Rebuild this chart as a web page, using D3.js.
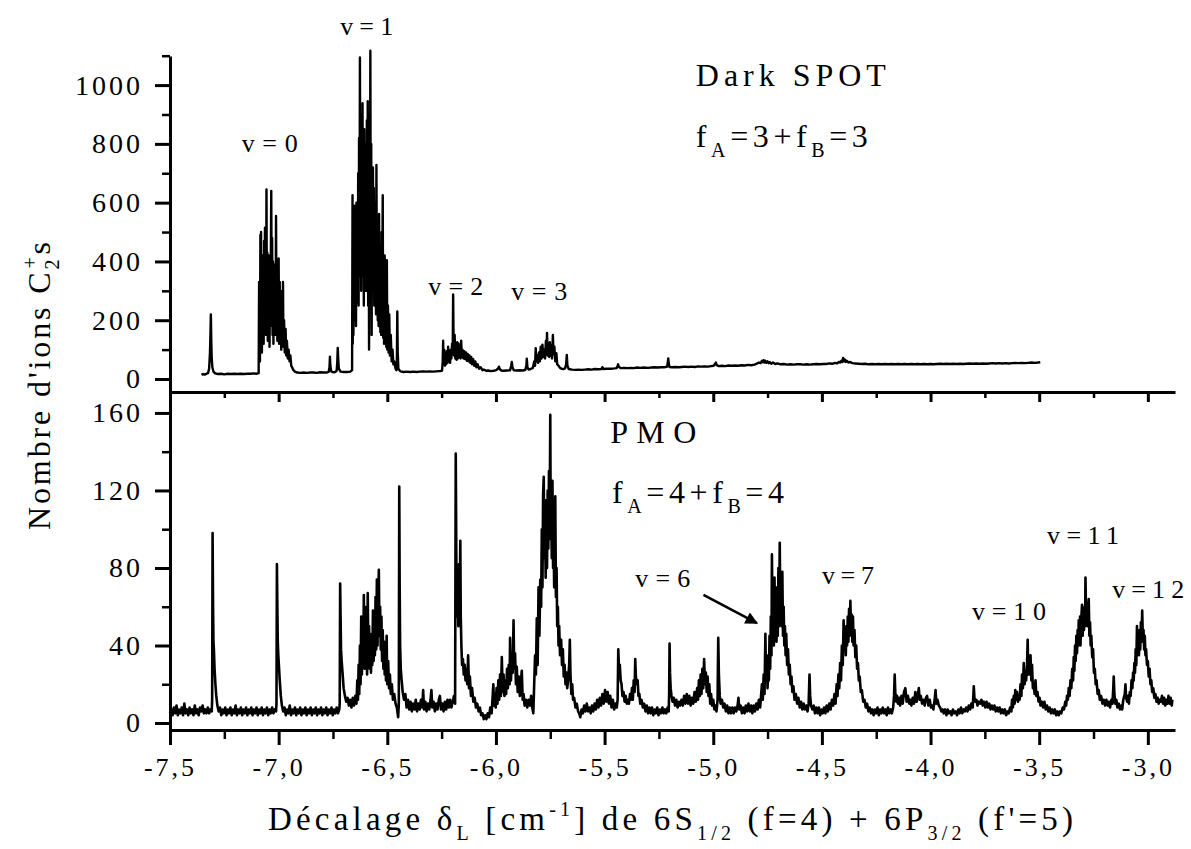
<!DOCTYPE html>
<html>
<head>
<meta charset="utf-8">
<script src="https://cdn.jsdelivr.net/npm/d3@7"></script>
<style>
  body { margin: 0; background: #fff; }
  svg text { font-family: "Liberation Serif", "Times New Roman", Times, "DejaVu Serif", "Noto Serif", serif !important; fill: #000; }
</style>
</head>
<body>
<script>
// tick values
var xTicks = [-7.5, -7.0, -6.5, -6.0, -5.5, -5.0, -4.5, -4.0, -3.5, -3.0];
var xMinor = [-7.25, -6.75, -6.25, -5.75, -5.25, -4.75, -4.25, -3.75, -3.25];
var yTicksTop = [0, 200, 400, 600, 800, 1000];
var yMinorTop = [100, 300, 500, 700, 900, 1100];
var yTicksBot = [0, 40, 80, 120, 160];
var yMinorBot = [20, 60, 100, 140];

// Dark SPOT spectrum, fA=3 + fB=3  [shift cm-1, ion counts]
var darkSpot = [
[-7.355,14],[-7.348,17],[-7.340,15],[-7.332,18],[-7.325,20],[-7.320,35],[-7.316,90],[-7.314,150],[-7.312,220],[-7.310,130],[-7.308,70],[-7.305,40],[-7.300,25],[-7.292,19],[-7.280,17],[-7.265,18],[-7.250,16],[-7.235,18],[-7.220,17],[-7.205,18],[-7.190,17],[-7.175,18],[-7.160,17],[-7.145,18],[-7.130,18],[-7.115,19],[-7.100,18],[-7.092,20],
[-7.090,330],[-7.089,80],[-7.087,260],[-7.086,60],[-7.084,490],[-7.083,110],[-7.081,500],[-7.080,150],[-7.078,300],[-7.077,90],[-7.075,420],[-7.073,140],[-7.071,340],[-7.069,120],[-7.067,470],[-7.066,180],[-7.063,515],[-7.061,200],[-7.059,380],[-7.058,150],[-7.056,645],[-7.054,220],[-7.052,430],[-7.050,130],[-7.048,380],[-7.046,170],[-7.044,420],[-7.042,110],[-7.040,300],[-7.038,180],[-7.034,640],[-7.032,240],[-7.030,480],[-7.028,150],[-7.026,400],[-7.024,120],[-7.022,350],[-7.020,200],[-7.016,390],[-7.014,150],[-7.012,555],[-7.010,170],[-7.008,380],[-7.006,130],[-7.004,300],[-7.002,160],[-7.000,410],[-6.998,120],[-6.995,330],[-6.993,140],[-6.990,260],[-6.988,100],[-6.985,300],[-6.983,130],[-6.980,330],[-6.978,110],[-6.975,200],[-6.972,90],[-6.968,170],[-6.965,80],[-6.962,130],[-6.958,70],[-6.954,100],[-6.950,60],[-6.946,80],[-6.942,45],[-6.938,40],[-6.932,30],[-6.925,25],
[-6.915,22],[-6.900,21],[-6.885,22],[-6.870,21],[-6.855,22],[-6.840,22],[-6.825,21],[-6.810,23],[-6.795,22],[-6.780,22],[-6.770,24],[-6.766,40],[-6.764,76],[-6.762,45],[-6.758,26],[-6.750,23],[-6.740,24],[-6.733,28],[-6.730,60],[-6.728,106],[-6.726,70],[-6.723,35],[-6.715,25],[-6.700,24],[-6.685,24],[-6.670,25],[-6.662,30],
[-6.660,625],[-6.659,120],[-6.657,560],[-6.656,150],[-6.654,380],[-6.652,200],[-6.650,590],[-6.648,220],[-6.646,480],[-6.644,180],[-6.642,600],[-6.640,260],[-6.638,560],[-6.636,300],[-6.634,700],[-6.632,250],[-6.630,820],[-6.628,350],[-6.626,1094],[-6.624,400],[-6.622,900],[-6.620,300],[-6.618,780],[-6.616,420],[-6.614,938],[-6.612,350],[-6.610,750],[-6.608,250],[-6.606,850],[-6.604,400],[-6.602,700],[-6.600,300],[-6.598,800],[-6.596,350],[-6.594,880],[-6.592,300],[-6.590,945],[-6.588,250],[-6.586,900],[-6.584,100],[-6.582,650],[-6.580,300],[-6.578,1117],[-6.576,380],[-6.574,800],[-6.572,150],[-6.570,700],[-6.568,300],[-6.566,720],[-6.564,350],[-6.562,650],[-6.560,250],[-6.558,560],[-6.556,300],[-6.554,600],[-6.552,220],[-6.550,728],[-6.548,260],[-6.546,500],[-6.544,200],[-6.542,480],[-6.540,180],[-6.538,562],[-6.536,200],[-6.534,420],[-6.532,160],[-6.530,380],[-6.528,150],[-6.526,500],[-6.524,170],[-6.521,625],[-6.519,140],[-6.517,380],[-6.515,120],[-6.512,420],[-6.510,130],[-6.507,300],[-6.505,110],[-6.502,404],[-6.500,100],[-6.497,250],[-6.494,90],[-6.491,220],[-6.488,80],[-6.484,150],[-6.480,60],[-6.476,100],[-6.472,50],[-6.468,60],[-6.462,35],[-6.458,30],[-6.456,60],[-6.454,230],[-6.452,90],[-6.449,35],[-6.440,26],
[-6.425,24],[-6.410,25],[-6.395,24],[-6.380,25],[-6.365,24],[-6.350,25],[-6.335,26],[-6.320,25],[-6.305,26],[-6.290,25],[-6.275,26],[-6.260,27],[-6.248,28],
[-6.245,60],[-6.243,130],[-6.241,50],[-6.238,100],[-6.235,45],[-6.232,80],[-6.229,50],[-6.226,95],[-6.223,55],[-6.220,110],[-6.217,60],[-6.214,90],[-6.211,55],[-6.208,100],[-6.205,70],[-6.202,120],[-6.199,90],[-6.197,288],[-6.195,130],[-6.193,80],[-6.190,150],[-6.187,70],[-6.184,110],[-6.181,65],[-6.178,125],[-6.175,70],[-6.172,120],[-6.169,75],[-6.166,110],[-6.163,70],[-6.160,130],[-6.157,75],[-6.154,100],[-6.150,70],[-6.146,95],[-6.142,68],[-6.138,90],[-6.134,62],[-6.130,85],[-6.126,60],[-6.122,80],[-6.118,55],[-6.114,75],[-6.110,50],[-6.105,68],[-6.100,45],[-6.095,60],[-6.090,40],[-6.084,50],[-6.078,35],[-6.070,40],[-6.062,30],[-6.055,32],[-6.045,28],[-6.035,29],[-6.025,27],[-6.010,28],[-5.998,30],[-5.990,36],[-5.986,42],[-5.982,33],[-5.975,29],[-5.965,28],[-5.950,29],[-5.935,30],[-5.930,45],[-5.927,58],[-5.924,40],[-5.918,30],[-5.905,29],[-5.890,30],[-5.875,29],[-5.865,31],
[-5.860,45],[-5.858,69],[-5.855,40],[-5.850,32],[-5.840,34],[-5.830,38],[-5.824,60],[-5.820,45],[-5.817,105],[-5.814,60],[-5.810,80],[-5.806,55],[-5.802,90],[-5.798,60],[-5.794,110],[-5.790,70],[-5.786,117],[-5.782,75],[-5.778,100],[-5.774,70],[-5.770,130],[-5.767,90],[-5.765,157],[-5.762,80],[-5.758,120],[-5.755,75],[-5.752,125],[-5.748,80],[-5.745,115],[-5.742,70],[-5.738,150],[-5.735,85],[-5.731,110],[-5.727,60],[-5.722,88],[-5.718,50],[-5.712,45],[-5.705,38],[-5.698,35],[-5.690,34],[-5.682,36],[-5.677,50],[-5.674,82],[-5.671,45],[-5.665,34],[-5.650,32],[-5.635,31],[-5.620,32],[-5.605,31],[-5.590,32],[-5.575,33],[-5.560,32],[-5.545,34],[-5.530,33],[-5.515,34],[-5.510,40],[-5.505,34],[-5.490,35],[-5.470,35],[-5.455,36],[-5.445,37],[-5.440,44],[-5.438,50],[-5.435,42],[-5.425,37],[-5.410,38],[-5.395,37],[-5.380,38],[-5.365,37],[-5.350,39],[-5.335,38],[-5.320,39],[-5.300,38],[-5.285,39],[-5.270,40],[-5.255,39],[-5.240,40],[-5.225,40],[-5.212,42],[-5.209,58],[-5.207,70],[-5.205,54],[-5.201,41],[-5.190,40],[-5.175,41],[-5.160,40],[-5.145,41],[-5.130,42],[-5.115,41],[-5.100,42],[-5.085,41],[-5.070,43],[-5.055,42],[-5.040,43],[-5.025,42],[-5.010,44],[-4.998,45],[-4.992,51],[-4.988,56],[-4.984,47],[-4.975,44],[-4.960,45],[-4.945,44],[-4.930,46],[-4.915,45],[-4.900,46],[-4.885,45],[-4.870,47],[-4.855,46],[-4.840,48],[-4.825,47],[-4.810,49],[-4.800,52],[-4.790,56],[-4.782,54],[-4.776,62],[-4.772,57],[-4.768,64],[-4.764,56],[-4.760,62],[-4.755,55],[-4.750,60],[-4.745,54],[-4.740,58],[-4.733,52],[-4.725,56],[-4.715,51],[-4.705,53],[-4.690,50],[-4.675,51],[-4.660,49],[-4.645,50],[-4.630,49],[-4.615,50],[-4.600,50],[-4.585,49],[-4.570,50],[-4.555,49],[-4.540,50],[-4.525,51],[-4.510,50],[-4.495,51],[-4.480,51],[-4.465,53],[-4.450,52],[-4.440,55],[-4.430,53],[-4.422,58],[-4.416,56],[-4.410,62],[-4.406,58],[-4.402,72],[-4.398,60],[-4.394,66],[-4.390,58],[-4.385,62],[-4.378,56],[-4.370,58],[-4.360,54],[-4.345,53],[-4.330,52],[-4.315,51],[-4.300,52],[-4.285,50],[-4.270,51],[-4.255,50],[-4.240,51],[-4.225,50],[-4.210,51],[-4.195,50],[-4.180,51],[-4.165,50],[-4.150,51],[-4.135,50],[-4.120,51],[-4.105,50],[-4.090,51],[-4.075,50],[-4.060,51],[-4.045,50],[-4.030,51],[-4.015,50],[-4.000,51],[-3.985,50],[-3.970,51],[-3.955,52],[-3.940,51],[-3.925,52],[-3.910,51],[-3.895,52],[-3.880,51],[-3.865,52],[-3.850,51],[-3.835,52],[-3.820,53],[-3.805,52],[-3.790,53],[-3.775,52],[-3.760,53],[-3.745,52],[-3.730,53],[-3.715,54],[-3.700,53],[-3.685,54],[-3.670,53],[-3.655,54],[-3.640,53],[-3.625,54],[-3.610,55],[-3.595,54],[-3.580,55],[-3.565,54],[-3.550,55],[-3.535,56],[-3.520,55],[-3.505,56],[-3.495,57]
];

// PMO spectrum, fA=4 + fB=4  [shift cm-1, ion counts]
var pmo = [
[-7.500,5],[-7.494,7],[-7.488,4],[-7.482,8],[-7.476,5],[-7.470,9],[-7.464,4],[-7.458,7],[-7.452,5],[-7.446,8],[-7.440,4],[-7.434,10],[-7.428,5],[-7.422,7],[-7.416,4],[-7.410,8],[-7.404,5],[-7.398,7],[-7.392,4],[-7.386,9],[-7.380,5],[-7.374,7],[-7.368,4],[-7.362,8],[-7.356,6],[-7.350,9],[-7.344,5],[-7.338,7],[-7.332,5],[-7.326,8],[-7.320,5],[-7.314,7],[-7.308,6],[-7.306,12],
[-7.304,98],[-7.302,62],[-7.300,42],[-7.298,38],[-7.295,28],[-7.291,20],[-7.287,14],[-7.282,9],[-7.276,6],[-7.270,8],[-7.264,4],[-7.258,7],[-7.252,5],[-7.246,8],[-7.240,4],[-7.234,7],[-7.228,5],[-7.222,8],[-7.216,4],[-7.210,7],[-7.204,5],[-7.198,9],[-7.192,4],[-7.186,7],[-7.180,5],[-7.174,8],[-7.168,4],[-7.162,7],[-7.156,5],[-7.150,8],[-7.144,4],[-7.138,7],[-7.132,5],[-7.126,8],[-7.120,4],[-7.114,7],[-7.108,5],[-7.102,8],[-7.096,4],[-7.090,7],[-7.084,5],[-7.078,8],[-7.072,4],[-7.066,7],[-7.060,5],[-7.054,8],[-7.048,4],[-7.042,7],[-7.036,5],[-7.030,8],[-7.024,5],[-7.018,7],[-7.012,6],[-7.010,10],
[-7.008,82],[-7.006,60],[-7.004,42],[-7.002,36],[-6.999,30],[-6.995,22],[-6.990,14],[-6.985,9],[-6.979,6],[-6.973,8],[-6.967,4],[-6.961,7],[-6.955,5],[-6.949,9],[-6.943,4],[-6.937,7],[-6.931,5],[-6.925,8],[-6.919,4],[-6.913,7],[-6.907,5],[-6.901,8],[-6.895,4],[-6.889,7],[-6.883,5],[-6.877,8],[-6.871,4],[-6.865,7],[-6.859,5],[-6.853,8],[-6.847,4],[-6.841,7],[-6.835,5],[-6.829,8],[-6.823,4],[-6.817,7],[-6.811,5],[-6.805,8],[-6.799,4],[-6.793,7],[-6.787,5],[-6.781,8],[-6.775,4],[-6.769,7],[-6.763,5],[-6.757,8],[-6.751,4],[-6.745,7],[-6.739,5],[-6.733,8],[-6.727,5],[-6.721,7],[-6.719,10],
[-6.717,72],[-6.715,55],[-6.713,38],[-6.710,32],[-6.706,26],[-6.701,18],[-6.695,14],[-6.689,11],[-6.683,13],[-6.677,9],[-6.671,12],[-6.665,8],[-6.659,13],[-6.653,9],[-6.647,14],[-6.642,10],[-6.638,22],[-6.635,12],[-6.632,30],[-6.629,15],[-6.626,40],[-6.623,20],[-6.620,55],[-6.617,25],[-6.614,48],[-6.611,30],[-6.608,66],[-6.605,28],[-6.602,60],[-6.599,32],[-6.596,45],[-6.593,25],[-6.590,67],[-6.587,30],[-6.584,50],[-6.581,28],[-6.578,40],[-6.575,26],[-6.572,46],[-6.569,30],[-6.566,58],[-6.563,32],[-6.560,52],[-6.557,35],[-6.554,65],[-6.551,38],[-6.548,74],[-6.545,40],[-6.542,62],[-6.539,79],[-6.536,45],[-6.533,60],[-6.530,38],[-6.527,55],[-6.524,32],[-6.521,48],[-6.518,28],[-6.515,42],[-6.512,25],[-6.509,38],[-6.506,22],[-6.503,45],[-6.500,20],[-6.496,32],[-6.492,18],[-6.488,25],[-6.484,15],[-6.479,20],[-6.474,12],[-6.468,15],[-6.462,10],[-6.456,8],[-6.450,3],[-6.447,10],
[-6.445,122],[-6.443,70],[-6.441,40],[-6.438,28],[-6.434,22],[-6.429,16],[-6.423,12],[-6.417,15],[-6.411,8],[-6.405,12],[-6.399,7],[-6.393,11],[-6.387,6],[-6.381,10],[-6.375,7],[-6.369,12],[-6.363,6],[-6.357,10],[-6.351,7],[-6.345,12],[-6.339,8],[-6.335,17],[-6.331,7],[-6.325,11],[-6.319,6],[-6.313,10],[-6.307,7],[-6.301,12],[-6.297,17],[-6.293,8],[-6.287,11],[-6.281,6],[-6.275,10],[-6.269,7],[-6.263,12],[-6.258,14],[-6.253,7],[-6.247,10],[-6.241,6],[-6.235,11],[-6.229,7],[-6.223,12],[-6.217,8],[-6.211,12],[-6.205,8],[-6.199,11],[-6.193,14],[-6.188,10],
[-6.185,139],[-6.182,80],[-6.179,55],[-6.176,70],[-6.173,50],[-6.170,82],[-6.167,60],[-6.164,94],[-6.162,55],[-6.159,40],[-6.156,30],[-6.152,33],[-6.148,25],[-6.144,30],[-6.140,22],[-6.136,28],[-6.132,20],[-6.128,35],[-6.124,18],[-6.120,24],[-6.115,14],[-6.110,18],[-6.104,11],[-6.098,13],[-6.092,8],[-6.086,10],[-6.080,6],[-6.074,8],[-6.068,4],[-6.062,5],[-6.056,2],[-6.050,4],[-6.044,2],[-6.038,5],[-6.032,3],[-6.026,8],[-6.020,5],[-6.015,14],[-6.012,20],[-6.009,9],[-6.005,15],[-6.001,8],[-5.997,18],[-5.993,10],[-5.989,22],[-5.985,12],[-5.981,25],[-5.977,14],[-5.973,34],[-5.969,16],[-5.965,25],[-5.961,14],[-5.957,22],[-5.953,15],[-5.949,28],[-5.945,18],[-5.941,30],[-5.937,20],[-5.935,44],[-5.931,22],[-5.927,32],[-5.923,26],[-5.919,53],[-5.916,28],[-5.912,36],[-5.908,20],[-5.904,29],[-5.900,16],[-5.895,24],[-5.890,14],[-5.885,22],[-5.881,27],[-5.877,12],[-5.873,15],[-5.868,9],[-5.862,12],[-5.856,8],[-5.850,12],[-5.844,9],[-5.838,14],[-5.833,8],[-5.828,5],[-5.824,20],
[-5.820,35],[-5.816,25],[-5.812,54],[-5.808,30],[-5.804,70],[-5.800,45],[-5.796,74],[-5.792,60],[-5.789,100],[-5.786,70],[-5.783,118],[-5.780,127],[-5.777,85],[-5.774,100],[-5.771,75],[-5.768,115],[-5.765,80],[-5.762,120],[-5.759,90],[-5.756,130],[-5.753,95],[-5.750,159],[-5.748,100],[-5.746,110],[-5.743,85],[-5.740,125],[-5.737,80],[-5.735,100],[-5.732,70],[-5.729,105],[-5.727,117],[-5.724,65],[-5.721,80],[-5.718,50],[-5.715,60],[-5.712,40],[-5.709,50],[-5.705,35],[-5.700,43],[-5.696,30],[-5.692,38],[-5.688,24],[-5.684,30],[-5.680,20],[-5.676,26],[-5.672,18],[-5.668,22],[-5.663,30],[-5.660,43],[-5.657,25],[-5.653,15],[-5.649,20],[-5.645,12],[-5.640,13],[-5.634,8],[-5.628,10],[-5.622,6],[-5.617,5],[-5.612,3],[-5.606,7],[-5.600,5],[-5.594,9],[-5.588,6],[-5.582,10],[-5.576,6],[-5.570,8],[-5.564,5],[-5.558,9],[-5.552,6],[-5.546,10],[-5.540,7],[-5.534,12],[-5.528,8],[-5.522,13],[-5.516,9],[-5.510,15],[-5.504,10],[-5.498,17],[-5.492,11],[-5.486,16],[-5.480,10],[-5.474,14],[-5.468,8],[-5.462,12],[-5.456,7],[-5.450,10],[-5.444,8],[-5.440,12],
[-5.437,38],[-5.434,28],[-5.430,30],[-5.426,22],[-5.422,20],[-5.418,14],[-5.413,16],[-5.408,11],[-5.403,14],[-5.398,10],[-5.393,12],[-5.388,10],[-5.383,15],[-5.378,12],[-5.374,18],[-5.370,12],[-5.366,22],[-5.362,16],[-5.359,33],[-5.356,24],[-5.352,20],[-5.348,22],[-5.344,14],[-5.340,15],[-5.336,10],[-5.330,12],[-5.324,8],[-5.318,10],[-5.312,6],[-5.306,9],[-5.300,5],[-5.294,8],[-5.288,5],[-5.282,8],[-5.276,4],[-5.270,7],[-5.264,5],[-5.258,8],[-5.252,4],[-5.246,7],[-5.240,5],[-5.234,8],[-5.228,5],[-5.222,7],[-5.216,5],[-5.210,8],[-5.205,6],[-5.203,15],
[-5.201,41],[-5.199,26],[-5.196,18],[-5.192,14],[-5.187,11],[-5.182,13],[-5.176,9],[-5.170,12],[-5.164,8],[-5.158,11],[-5.152,9],[-5.146,12],[-5.140,9],[-5.134,14],[-5.128,10],[-5.122,15],[-5.116,10],[-5.110,14],[-5.104,9],[-5.098,13],[-5.092,10],[-5.086,16],[-5.080,11],[-5.074,18],[-5.070,12],[-5.066,22],[-5.062,14],[-5.058,25],[-5.054,15],[-5.050,28],[-5.046,18],[-5.042,33],[-5.038,20],[-5.034,26],[-5.030,16],[-5.026,24],[-5.022,14],[-5.018,20],[-5.014,10],[-5.010,15],[-5.005,9],[-5.000,12],[-4.995,7],[-4.990,9],[-4.985,6],[-4.980,12],[-4.977,44],[-4.974,25],[-4.970,14],[-4.966,10],[-4.960,12],[-4.954,8],[-4.948,10],[-4.942,6],[-4.936,9],[-4.930,5],[-4.924,8],[-4.918,5],[-4.912,8],[-4.906,5],[-4.900,8],[-4.894,6],[-4.888,9],[-4.884,13],[-4.880,7],[-4.874,9],[-4.868,5],[-4.862,8],[-4.856,5],[-4.850,9],[-4.844,6],[-4.838,10],[-4.832,6],[-4.826,9],[-4.820,5],[-4.814,9],[-4.808,6],[-4.802,10],[-4.796,7],[-4.790,12],[-4.784,8],[-4.780,14],
[-4.776,20],[-4.772,12],[-4.768,25],[-4.764,15],[-4.760,46],[-4.757,22],[-4.753,30],[-4.750,18],[-4.747,35],[-4.744,22],[-4.741,45],[-4.738,28],[-4.735,55],[-4.732,35],[-4.730,87],[-4.727,50],[-4.724,65],[-4.721,40],[-4.718,75],[-4.715,45],[-4.712,70],[-4.709,42],[-4.706,60],[-4.703,45],[-4.700,80],[-4.697,50],[-4.694,93],[-4.691,55],[-4.688,70],[-4.685,50],[-4.682,78],[-4.679,45],[-4.676,60],[-4.673,40],[-4.670,50],[-4.667,35],[-4.664,46],[-4.660,30],[-4.656,38],[-4.652,25],[-4.648,30],[-4.644,20],[-4.640,24],[-4.636,16],[-4.631,19],[-4.626,12],[-4.620,15],[-4.614,10],[-4.608,13],[-4.602,8],[-4.596,11],[-4.590,7],[-4.584,10],[-4.578,7],[-4.572,9],[-4.566,6],[-4.561,10],[-4.557,25],[-4.554,14],[-4.550,9],[-4.544,7],[-4.538,9],[-4.532,5],[-4.526,8],[-4.520,5],[-4.514,8],[-4.508,4],[-4.502,7],[-4.496,5],[-4.490,8],[-4.484,5],[-4.478,9],[-4.472,6],[-4.466,10],[-4.460,7],[-4.454,12],[-4.448,9],[-4.442,15],[-4.437,10],[-4.432,20],[-4.428,14],[-4.424,25],
[-4.420,18],[-4.416,31],[-4.412,22],[-4.408,40],[-4.404,30],[-4.400,53],[-4.397,38],[-4.393,45],[-4.390,35],[-4.387,50],[-4.384,40],[-4.381,55],[-4.378,42],[-4.375,59],[-4.372,45],[-4.369,63],[-4.366,48],[-4.363,56],[-4.360,42],[-4.357,55],[-4.354,40],[-4.350,48],[-4.346,34],[-4.342,40],[-4.338,28],[-4.334,31],[-4.330,22],[-4.326,24],[-4.321,16],[-4.316,17],[-4.310,11],[-4.304,12],[-4.298,8],[-4.292,10],[-4.286,6],[-4.280,8],[-4.274,5],[-4.268,7],[-4.262,4],[-4.256,7],[-4.250,5],[-4.244,8],[-4.238,4],[-4.232,7],[-4.226,5],[-4.220,8],[-4.214,5],[-4.208,7],[-4.202,4],[-4.196,8],[-4.190,5],[-4.184,7],[-4.178,5],[-4.172,8],[-4.168,14],[-4.165,25],[-4.162,15],[-4.158,11],[-4.154,14],[-4.150,10],[-4.145,13],[-4.140,9],[-4.134,14],[-4.128,10],[-4.122,16],[-4.116,18],[-4.110,11],[-4.104,14],[-4.098,10],[-4.093,12],[-4.088,9],[-4.082,13],[-4.076,10],[-4.070,16],[-4.064,11],[-4.058,15],[-4.054,18],[-4.050,12],[-4.045,14],[-4.039,10],[-4.033,12],[-4.027,9],[-4.021,13],[-4.016,14],[-4.010,9],[-4.004,12],[-3.998,8],[-3.993,9],[-3.987,7],[-3.981,12],[-3.977,17],[-3.973,10],[-3.968,12],[-3.962,9],[-3.956,8],[-3.950,6],[-3.944,7],[-3.939,5],[-3.933,7],[-3.927,4],[-3.921,7],[-3.915,5],[-3.909,6],[-3.903,4],[-3.897,7],[-3.891,5],[-3.885,6],[-3.878,4],[-3.872,7],[-3.866,5],[-3.860,8],[-3.854,5],[-3.848,7],[-3.842,6],[-3.836,8],[-3.830,6],[-3.824,9],[-3.818,7],[-3.812,10],[-3.806,8],[-3.803,14],[-3.801,19],[-3.798,13],[-3.794,11],[-3.789,12],[-3.784,9],[-3.778,11],[-3.772,10],[-3.766,12],[-3.760,9],[-3.754,11],[-3.748,8],[-3.742,11],[-3.736,8],[-3.730,10],[-3.724,7],[-3.718,9],[-3.712,7],[-3.706,9],[-3.700,6],[-3.694,8],[-3.688,6],[-3.682,8],[-3.676,5],[-3.670,7],[-3.664,5],[-3.658,7],[-3.652,4],[-3.646,6],[-3.640,5],[-3.634,8],[-3.628,6],[-3.625,12],[-3.621,8],[-3.617,14],[-3.613,10],[-3.610,17],
[-3.606,12],[-3.602,16],[-3.598,11],[-3.594,14],[-3.590,12],[-3.586,20],[-3.582,14],[-3.579,25],[-3.575,18],[-3.571,31],[-3.567,20],[-3.563,26],[-3.560,22],[-3.556,30],[-3.553,43],[-3.550,25],[-3.547,32],[-3.543,25],[-3.540,35],[-3.536,22],[-3.533,30],[-3.529,18],[-3.525,20],[-3.521,15],[-3.517,22],[-3.513,14],[-3.508,16],[-3.503,11],[-3.498,13],[-3.494,9],[-3.488,11],[-3.482,8],[-3.476,11],[-3.470,7],[-3.464,9],[-3.458,6],[-3.452,8],[-3.446,5],[-3.440,7],[-3.434,5],[-3.428,7],[-3.422,4],[-3.416,6],[-3.410,4],[-3.404,6],[-3.398,5],[-3.392,8],[-3.386,7],[-3.380,11],[-3.376,9],[-3.372,14],
[-3.368,12],[-3.364,18],[-3.360,14],[-3.356,22],[-3.352,18],[-3.348,28],[-3.344,22],[-3.341,34],[-3.338,27],[-3.335,40],[-3.332,32],[-3.329,45],[-3.326,36],[-3.323,48],[-3.320,40],[-3.318,53],[-3.315,42],[-3.312,55],[-3.310,40],[-3.307,52],[-3.303,61],[-3.300,45],[-3.297,55],[-3.294,48],[-3.291,60],[-3.289,50],[-3.287,75],[-3.284,55],[-3.281,62],[-3.278,50],[-3.275,58],[-3.272,64],[-3.269,45],[-3.266,52],[-3.263,40],[-3.260,45],[-3.256,34],[-3.252,38],[-3.248,26],[-3.244,28],[-3.240,20],[-3.236,22],[-3.231,15],[-3.226,17],[-3.221,12],[-3.215,14],[-3.209,10],[-3.203,12],[-3.197,9],[-3.191,12],[-3.185,9],[-3.180,11],[-3.174,8],[-3.168,12],[-3.163,10],[-3.159,18],[-3.157,24],[-3.154,15],[-3.150,10],[-3.145,12],[-3.140,8],[-3.134,10],[-3.128,7],[-3.122,9],[-3.118,7],[-3.113,12],[-3.106,15],[-3.103,20],[-3.100,13],[-3.095,11],[-3.091,14],[-3.087,10],[-3.083,16],[-3.079,14],[-3.075,22],
[-3.071,18],[-3.068,26],[-3.065,22],[-3.062,31],[-3.059,26],[-3.056,38],[-3.053,30],[-3.050,50],[-3.047,36],[-3.044,42],[-3.041,35],[-3.038,48],[-3.035,38],[-3.032,52],[-3.029,42],[-3.026,58],[-3.023,44],[-3.020,48],[-3.017,38],[-3.014,45],[-3.011,35],[-3.008,38],[-3.004,30],[-3.000,32],[-2.996,24],[-2.992,28],[-2.988,20],[-2.984,22],[-2.980,16],[-2.975,18],[-2.970,13],[-2.965,15],[-2.960,11],[-2.955,13],[-2.950,10],[-2.945,12],[-2.940,11],[-2.935,14],[-2.930,10],[-2.925,13],[-2.920,9],[-2.915,12],[-2.910,10],[-2.905,14],[-2.900,10],[-2.895,13],[-2.890,9],[-2.887,12]
];

var width = 1191,
    height = 849;

var serif = "'Liberation Serif', 'Times New Roman', Times, 'DejaVu Serif', serif";

var svg = d3.select("body").append("svg")
    .attr("width", width)
    .attr("height", height)
    .style("font-family", serif);

var x = d3.scaleLinear().domain([-7.5, -2.875]).range([170, 1175]);
var yTop = d3.scaleLinear().domain([-44.2, 1099]).range([392, 56]);
var yBot = d3.scaleLinear().domain([-3.6, 170.8]).range([730, 392]);

var frFormat = function(d) { return d.toFixed(1).replace(".", ","); };

function styleAxis(g, w) {
  g.attr("font-family", null);
  g.selectAll("path, line").attr("stroke", "#000").attr("stroke-width", w);
  g.selectAll("text").style("font-family", serif).attr("fill", "#000");
}

// left axes
svg.append("g").attr("transform", "translate(170,0)")
  .call(d3.axisLeft(yTop).tickValues(yTicksTop).tickFormat(d3.format("d")).tickSize(15).tickPadding(12).tickSizeOuter(0))
  .call(styleAxis, 3)
  .selectAll("text").attr("font-size", 28).style("letter-spacing", "3px");
svg.append("g").attr("transform", "translate(170,0)")
  .call(d3.axisLeft(yTop).tickValues(yMinorTop).tickSize(8).tickFormat("").tickSizeOuter(0))
  .call(styleAxis, 2.5)
  .select(".domain").remove();

svg.append("g").attr("transform", "translate(170,0)")
  .call(d3.axisLeft(yBot).tickValues(yTicksBot).tickFormat(d3.format("d")).tickSize(15).tickPadding(12).tickSizeOuter(0))
  .call(styleAxis, 3)
  .selectAll("text").attr("font-size", 28).style("letter-spacing", "3px");
svg.append("g").attr("transform", "translate(170,0)")
  .call(d3.axisLeft(yBot).tickValues(yMinorBot).tickSize(8).tickFormat("").tickSizeOuter(0))
  .call(styleAxis, 2.5)
  .select(".domain").remove();

// divider between the two panels, ticks pointing down
svg.append("g").attr("transform", "translate(0,392)")
  .call(d3.axisBottom(x).tickValues(xTicks).tickSize(10).tickFormat("").tickSizeOuter(0))
  .call(styleAxis, 3);
svg.append("g").attr("transform", "translate(0,392)")
  .call(d3.axisBottom(x).tickValues(xMinor).tickSize(6).tickFormat("").tickSizeOuter(0))
  .call(styleAxis, 2.5)
  .select(".domain").remove();

// bottom axis
svg.append("g").attr("transform", "translate(0,730)")
  .call(d3.axisBottom(x).tickValues(xTicks).tickSize(15).tickPadding(13).tickFormat(frFormat).tickSizeOuter(0))
  .call(styleAxis, 3)
  .selectAll("text").attr("font-size", 26).style("letter-spacing", "3px");
svg.append("g").attr("transform", "translate(0,730)")
  .call(d3.axisBottom(x).tickValues(xMinor).tickSize(9).tickFormat("").tickSizeOuter(0))
  .call(styleAxis, 2.5)
  .select(".domain").remove();

// spectra
var lineTop = d3.line().x(function(d) { return x(d[0]); }).y(function(d) { return yTop(d[1]); });
var lineBot = d3.line().x(function(d) { return x(d[0]); }).y(function(d) { return yBot(d[1]); });

svg.append("path").datum(darkSpot)
  .attr("d", lineTop)
  .attr("fill", "none").attr("stroke", "#000").attr("stroke-width", 2.4)
  .attr("stroke-linejoin", "round");

svg.append("path").datum(pmo)
  .attr("d", lineBot)
  .attr("fill", "none").attr("stroke", "#000").attr("stroke-width", 2.6)
  .attr("stroke-linejoin", "round");

// spread letters so a text spans the wanted width
function fit(sel, target) {
  var node = sel.node();
  sel.style("letter-spacing", "0px");
  var w0 = node.getComputedTextLength();
  var n = node.getNumberOfChars();
  sel.style("letter-spacing", ((target - w0) / Math.max(1, n - 1)) + "px");
}

// level labels
var topNotes = [
  { t: "v=0", x: -7.170, y: 773, w: 56 },
  { t: "v=1", x: -6.717, y: 1170, w: 53 },
  { t: "v=2", x: -6.311, y: 286, w: 55 },
  { t: "v=3", x: -5.930, y: 269, w: 56 }
];
var botNotes = [
  { t: "v=6", x: -5.359, y: 70.3, w: 55 },
  { t: "v=7", x: -4.500, y: 71.7, w: 52 },
  { t: "v=10", x: -3.809, y: 53.2, w: 74 },
  { t: "v=11", x: -3.464, y: 92.4, w: 72 },
  { t: "v=12", x: -3.164, y: 64.4, w: 72 }
];

topNotes.forEach(function(d) {
  var t = svg.append("text").attr("x", x(d.x)).attr("y", yTop(d.y))
    .attr("font-size", 26).text(d.t);
  fit(t, d.w);
});
botNotes.forEach(function(d) {
  var t = svg.append("text").attr("x", x(d.x)).attr("y", yBot(d.y))
    .attr("font-size", 26).text(d.t);
  fit(t, d.w);
});

// panel captions
var dark = svg.append("text").attr("x", x(-5.080)).attr("y", yTop(997))
  .attr("font-size", 32).text("Dark SPOT");
fit(dark, 190);

function formula(px, py, a, b, w) {
  var t = svg.append("text").attr("x", px).attr("y", py).attr("font-size", 32);
  t.append("tspan").text("f");
  t.append("tspan").attr("font-size", 20).attr("dy", 10).text("A");
  t.append("tspan").attr("dy", -10).text("=" + a + "+f");
  t.append("tspan").attr("font-size", 20).attr("dy", 10).text("B");
  t.append("tspan").attr("dy", -10).text("=" + b);
  fit(t, w);
}
formula(x(-5.080), yTop(790), 3, 3, 172);

var pmoLabel = svg.append("text").attr("x", x(-5.474)).attr("y", yBot(144.4))
  .attr("font-size", 32).text("PMO");
fit(pmoLabel, 86);
formula(x(-5.466), yBot(113.4), 4, 4, 172);

// arrow pointing at v=6
svg.append("defs").append("marker")
  .attr("id", "head")
  .attr("viewBox", "0 0 10 10")
  .attr("refX", 9).attr("refY", 5)
  .attr("markerWidth", 6).attr("markerHeight", 5)
  .attr("markerUnits", "strokeWidth")
  .attr("orient", "auto")
  .append("path").attr("d", "M0,0 L10,5 L0,10 z").attr("fill", "#000");

svg.append("line")
  .attr("x1", x(-5.045)).attr("y1", yBot(66.1))
  .attr("x2", x(-4.799)).attr("y2", yBot(51.5))
  .attr("stroke", "#000").attr("stroke-width", 2.5)
  .attr("marker-end", "url(#head)");

// axis titles
var yTitle = svg.append("text")
  .attr("transform", "translate(50,530) rotate(-90)")
  .attr("font-size", 32);
yTitle.append("tspan").text("Nombre d'ions C");
yTitle.append("tspan").attr("font-size", 20).attr("dy", 9).text("2");
yTitle.append("tspan").attr("font-size", 20).attr("dx", -12).attr("dy", -22).text("+");
yTitle.append("tspan").attr("dy", 13).text("s");
fit(yTitle, 300);

var xTitle = svg.append("text").attr("x", 268).attr("y", 830).attr("font-size", 33);
xTitle.append("tspan").text("Décalage δ");
xTitle.append("tspan").attr("font-size", 20).attr("dy", 10).text("L");
xTitle.append("tspan").attr("dy", -10).text(" [cm");
xTitle.append("tspan").attr("font-size", 20).attr("dy", -14).text("-1");
xTitle.append("tspan").attr("dy", 14).text("] de 6S");
xTitle.append("tspan").attr("font-size", 20).attr("dy", 10).text("1/2");
xTitle.append("tspan").attr("dy", -10).text(" (f=4) + 6P");
xTitle.append("tspan").attr("font-size", 20).attr("dy", 10).text("3/2");
xTitle.append("tspan").attr("dy", -10).text(" (f'=5)");
fit(xTitle, 805);
</script>
</body>
</html>
